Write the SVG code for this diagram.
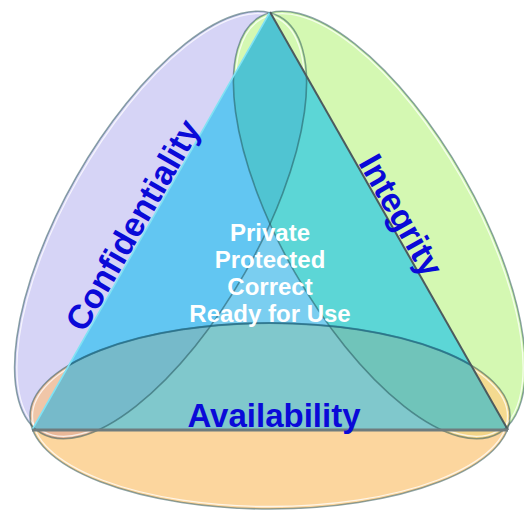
<svg xmlns="http://www.w3.org/2000/svg" width="524" height="512" viewBox="0 0 524 512">
<defs>
  <ellipse id="eC" cx="160.6" cy="225" rx="240" ry="97" transform="rotate(-60.2 160.6 225)"/>
  <ellipse id="eI" cx="379.4" cy="225" rx="240" ry="97" transform="rotate(60.2 379.4 225)"/>
  <ellipse id="eA" cx="270" cy="416" rx="240" ry="93"/>
  <ellipse id="eCi" cx="160.6" cy="225" rx="237.5" ry="94.5" transform="rotate(-60.2 160.6 225)"/>
  <ellipse id="eIi" cx="379.4" cy="225" rx="237.5" ry="94.5" transform="rotate(60.2 379.4 225)"/>
  <ellipse id="eAi" cx="270" cy="416" rx="237.5" ry="90.5"/>
  <polygon id="tri" points="270,12 32,430 508,430"/>
  <clipPath id="cTri"><use href="#tri"/></clipPath>
  <clipPath id="cOut"><path clip-rule="evenodd" d="M0 0H524V512H0Z M270 12 L32 430 L508 430Z"/></clipPath>
  <clipPath id="cC"><use href="#eC"/></clipPath>
  <clipPath id="cI"><use href="#eI"/></clipPath>
  <clipPath id="cA"><use href="#eA"/></clipPath>
  <clipPath id="cBelow"><rect x="0" y="430" width="524" height="82"/></clipPath>
  <style>
    .edge { fill: none; stroke: #1e4c52; stroke-opacity: 0.5; stroke-width: 1.6; }
    .hl { fill: none; stroke: #ffffff; stroke-opacity: 0.75; stroke-width: 1.3; }
    .lbl { font-family: "Liberation Sans", Arial, sans-serif; font-weight: bold; fill: #0a0ad8; font-size: 34px; }
    .inner { font-family: "Liberation Sans", Arial, sans-serif; font-weight: bold; fill: #ffffff; font-size: 24px; text-anchor: middle; }
  </style>
</defs>
<rect width="524" height="512" fill="#ffffff"/>

<g id="outer-fills">
  <g id="confidentiality"><use href="#eC" fill="#D6D4F6"/></g>
  <g id="integrity"><use href="#eI" fill="#D4F8B2"/></g>
  <g id="availability">
    <use href="#eA" fill="#FCD69E"/>
    <use href="#eA" fill="#F0C6A8" clip-path="url(#cC)"/>
    <use href="#eA" fill="#F4DA90" clip-path="url(#cI)"/>
    <g clip-path="url(#cBelow)">
      <use href="#eC" fill="#E9B898" clip-path="url(#cA)"/>
      <use href="#eI" fill="#F2D488" clip-path="url(#cA)"/>
    </g>
  </g>
</g>

<g id="triangle" clip-path="url(#cTri)">
  <rect width="524" height="512" fill="#7ACEF0"/>
  <use href="#eC" fill="#62C6F2"/>
  <use href="#eI" fill="#5CD6D6"/>
  <use href="#eI" fill="#50C4D2" clip-path="url(#cC)"/>
  <use href="#eA" fill="#80C8CC"/>
  <use href="#eA" fill="#76BACA" clip-path="url(#cC)"/>
  <use href="#eA" fill="#70C4BA" clip-path="url(#cI)"/>
</g>

<g id="outlines">
  <g clip-path="url(#cOut)">
    <use href="#eCi" class="hl"/>
    <use href="#eIi" class="hl"/>
    <use href="#eAi" class="hl"/>
  </g>
  <use href="#eC" class="edge"/>
  <use href="#eI" class="edge"/>
  <use href="#eA" class="edge"/>
  <g clip-path="url(#cTri)">
    <use href="#eA" fill="none" stroke="#1e6a8a" stroke-opacity="0.6" stroke-width="2"/>
  </g>
  <line x1="270" y1="12" x2="32" y2="430" stroke="#80E2F4" stroke-width="1.6"/>
  <line x1="270" y1="12" x2="508" y2="430" stroke="#4C5B5E" stroke-width="2"/>
  <line x1="32" y1="430" x2="508" y2="430" stroke="#6E7C7E" stroke-width="3"/>
</g>

<g id="labels">
  <text class="lbl" text-anchor="middle" transform="translate(143,231) rotate(-60.35)">Confidentiality</text>
  <text class="lbl" text-anchor="middle" transform="translate(391,221) rotate(60.35)">Integrity</text>
  <text class="lbl" x="274" y="427" text-anchor="middle" style="font-size:33px">Availability</text>
  <text class="inner" x="270" y="241">Private</text>
  <text class="inner" x="270" y="268">Protected</text>
  <text class="inner" x="270" y="295">Correct</text>
  <text class="inner" x="270" y="322">Ready for Use</text>
</g>
</svg>
